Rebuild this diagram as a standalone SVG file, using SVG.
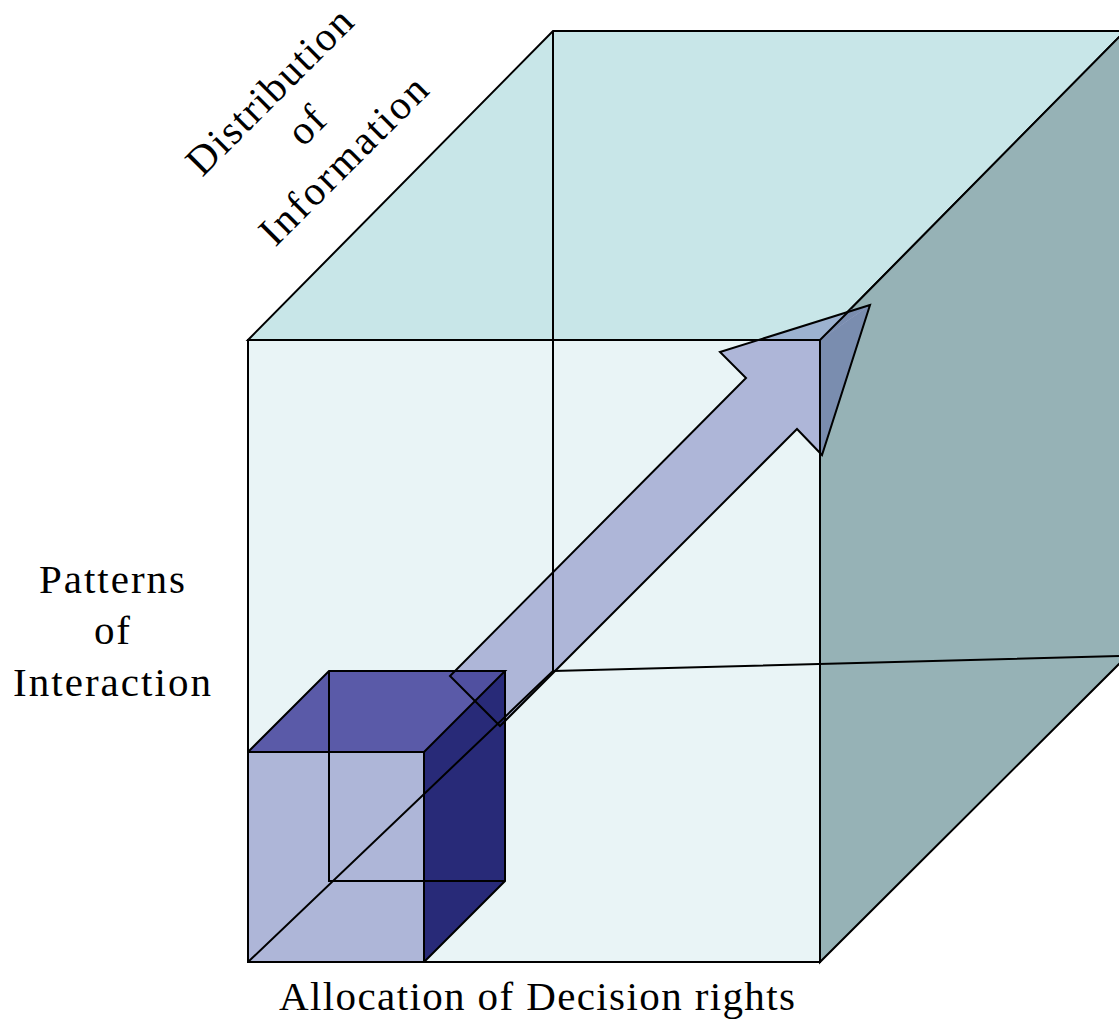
<svg xmlns="http://www.w3.org/2000/svg" width="1119" height="1020" viewBox="0 0 1119 1020">
<style>
.e{stroke:#000;stroke-width:2;stroke-linejoin:miter;fill:none}
.t{font-family:"Liberation Serif","Times New Roman",serif;font-size:41px;fill:#000;text-anchor:middle}
</style>
<rect width="1119" height="1020" fill="#fff"/>
<g id="large-cube">
<polygon points="248,340 553,31 1125,31 820,340" fill="#C8E6E8" stroke="#000" stroke-width="2"/>
<polygon points="820,340 1125,31 1125,658 820,962" fill="#96B2B6" stroke="#000" stroke-width="2"/>
<rect x="248" y="340" width="572" height="622" fill="#E9F4F6" stroke="#000" stroke-width="2"/>
</g>
<g id="arrow">
<polygon points="870,305 720,352 746,378 450,676 500,726 797,429 822,455" fill="#AEB6D8"/>
<polygon points="870,305 782,332.600 763,340 820,340 850,310" fill="#9CB2D0"/>
<polygon points="870,305 820,340 820,453 822,455" fill="#7A8DAF"/>
<polygon points="850,310 870,305 820,340" fill="#7A8DAF"/>
</g>
<g id="small-cube">
<polygon points="248,752 329,671 505,671 424,752" fill="#5A5AA8"/>
<polygon points="424,752 505,671 505,881 424,962" fill="#282A78"/>
<rect x="248" y="752" width="176" height="210" fill="#AEB6D8"/>
<polygon points="455,671 505,671 475,701 450,676" fill="#5050A0"/>
<path class="e" d="M248,752H424V962H248ZM248,752L329,671H505L424,752M505,671V881L424,962M329,671V881H505"/>
</g>
<g id="connectors">
<path class="e" d="M553,31V671M553,671L1119,656M248,962L553,671"/>
<path class="e" d="M248,340H820V962M820,340L850,310"/>
<polygon class="e" points="870,305 720,352 746,378 450,676 500,726 797,429 822,455"/>
</g>
<g id="labels">
<text class="t" x="112" y="593" textLength="146">Patterns</text>
<text class="t" x="112" y="644" textLength="36">of</text>
<text class="t" x="112" y="696" textLength="198">Interaction</text>
<text class="t" x="537" y="1010" textLength="516">Allocation of Decision rights</text>
<g transform="translate(279,101) rotate(-45)"><text class="t" x="0" y="0" textLength="217">Distribution</text></g>
<g transform="translate(316,135) rotate(-45)"><text class="t" x="0" y="0" textLength="36">of</text></g>
<g transform="translate(353,170) rotate(-45)"><text class="t" x="0" y="0" textLength="220">Information</text></g>
</g>
</svg>
